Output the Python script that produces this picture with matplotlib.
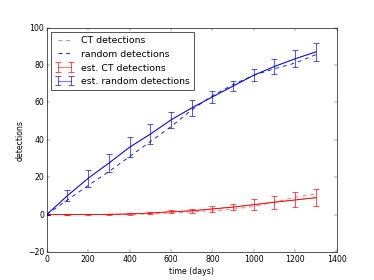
import matplotlib
matplotlib.use("Agg")
import matplotlib.pyplot as plt

plt.style.use('classic')

# time points (days)
days = [0, 100, 200, 300, 400, 500, 600, 700, 800, 900, 1000, 1100, 1200, 1300]

# true detections (dashed)
ct_true = [0, 0, 0, 0, 0.1, 0.4, 0.9, 1.4, 2.0, 2.9, 4.3, 6.6, 9.3, 11]
rand_true = [0, 7.8, 15.5, 23, 31, 39, 47, 56, 63.5, 69.5, 74.5, 78, 81, 85.5]

# estimated detections with error
ct_est = [0, 0, 0, 0.1, 0.3, 0.8, 1.5, 2.0, 3.0, 4.0, 5.3, 6.6, 7.8, 9]
ct_err = [0, 0, 0.1, 0.2, 0.3, 0.5, 0.8, 1.2, 1.5, 1.8, 3.0, 3.4, 4.0, 4.6]
rand_est = [0, 10.1, 19.4, 27.5, 36, 43, 50.6, 57, 62.9, 68.7, 74.5, 79.2, 83.3, 87]
rand_err = [0, 2.9, 4.4, 4.8, 5.3, 5.2, 4.4, 4.1, 3.2, 2.8, 3.2, 3.8, 4.6, 5.0]

fig = plt.figure(figsize=(8, 6), dpi=46.75)
ax = fig.add_subplot(111)

ax.plot(days, ct_true, 'r--', lw=1.3, alpha=0.6, label='CT detections')
ax.plot(days, rand_true, 'b--', lw=1.3, label='random detections')
ax.plot(days, ct_est, 'r-', lw=1.3)
ax.plot(days, rand_est, 'b-', lw=1.3)
ax.errorbar(days, ct_est, yerr=ct_err, color='r', alpha=0.65, lw=1.3,
            elinewidth=1.6, capthick=1.6, capsize=5, label='est. CT detections')
ax.errorbar(days, rand_est, yerr=rand_err, color='b', alpha=0.65, lw=1.3,
            elinewidth=1.6, capthick=1.6, capsize=5, label='est. random detections')

ax.set_xlim(0, 1400)
ax.set_ylim(-20, 100)
ax.set_xlabel('time (days)')
ax.set_ylabel('detections')
ax.legend(loc='upper left')

fig.savefig('out.png', dpi=46.75)
